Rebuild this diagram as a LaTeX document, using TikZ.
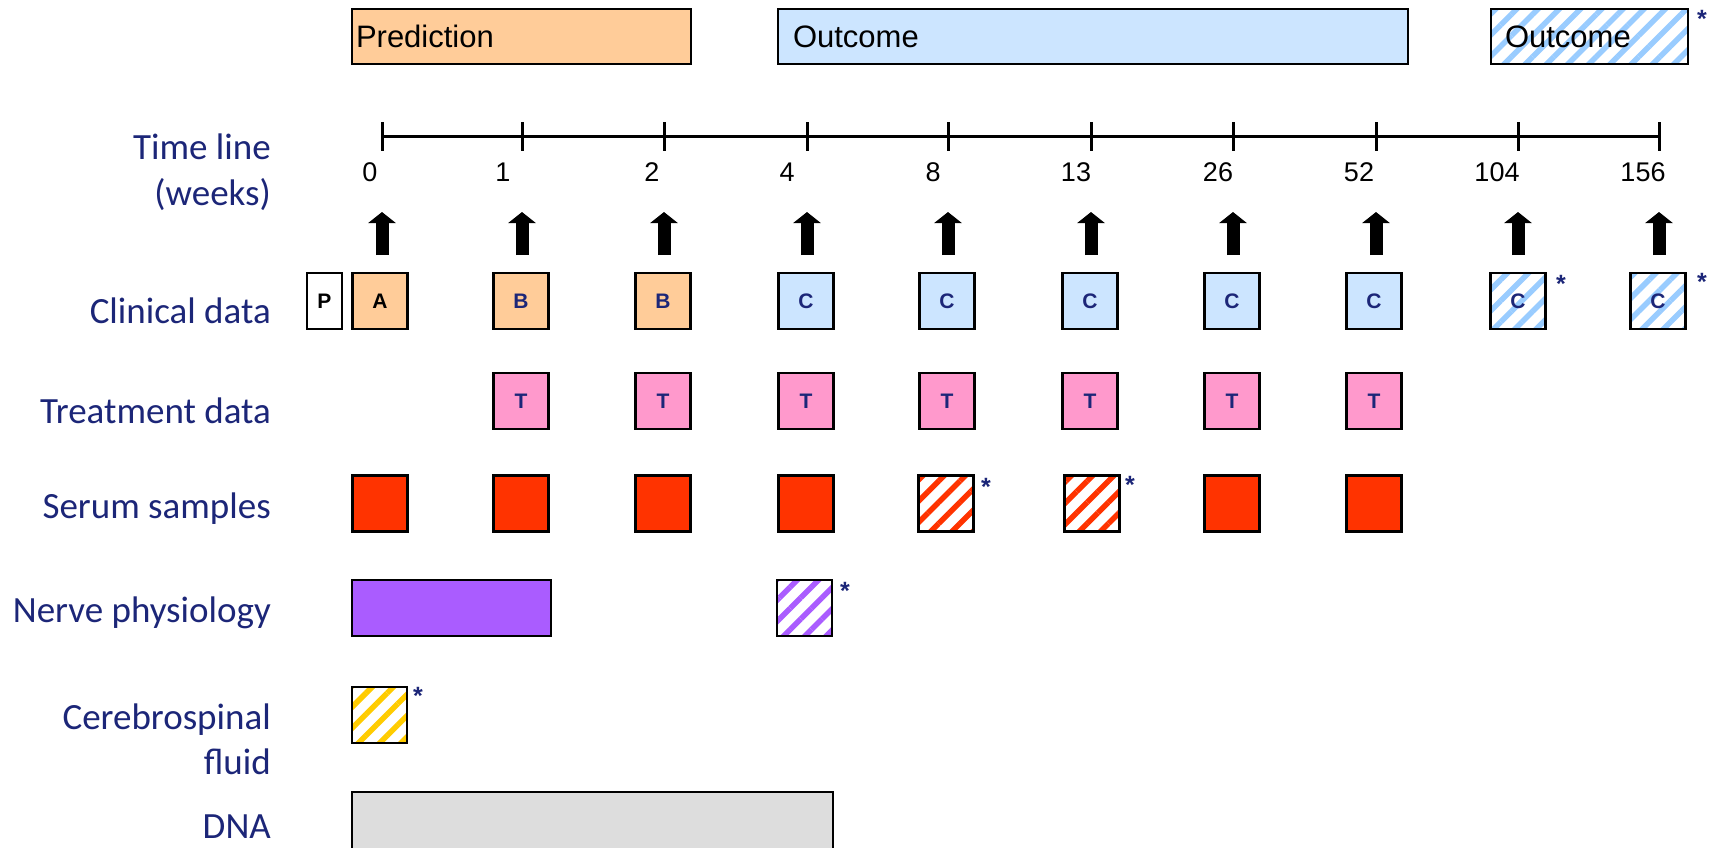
\documentclass[tikz,border=0pt]{standalone}
\usepackage{fontspec}
\setmainfont{Liberation Sans}
\newfontfamily\carlito{Carlito}
\usetikzlibrary{patterns.meta,arrows.meta}
\definecolor{navy}{RGB}{28,38,120}
\definecolor{peach}{HTML}{FFCC99}
\definecolor{lblue}{HTML}{CCE5FF}
\definecolor{sblue}{HTML}{99CCFF}
\definecolor{pinkT}{HTML}{FF99CC}
\definecolor{serum}{HTML}{FF3300}
\definecolor{purp}{HTML}{AA5CFF}
\definecolor{yel}{HTML}{FFCC00}
\definecolor{dnagray}{HTML}{DDDDDD}
\tikzset{
  bar/.style={draw=black, line width=2pt, inner ysep=0pt, minimum height=55pt,
    font=\fontsize{31}{31}\selectfont, align=left},
  sq/.style={draw=black, line width=2.2pt, minimum width=55pt, minimum height=56pt,
    inner sep=0pt, text=navy, font=\bfseries\fontsize{21}{21}\selectfont},
  hatch/.style={preaction={fill=white}, pattern={Lines[angle=45,distance=15pt,line width=5.5pt]}, pattern color=#1},
  ast/.style={text=navy, font=\bfseries\fontsize{25}{25}\selectfont, inner sep=0pt, anchor=north},
  rowlab/.style={text=navy, font=\carlito\fontsize{37}{46}\selectfont, inner sep=0pt, anchor=base east, align=right},
  ticklab/.style={font=\fontsize{27}{27}\selectfont, inner sep=0pt},
  axis/.style={line width=3pt},
  tickmark/.style={line width=3pt},
  bigarrow/.style={line width=13pt, -{Triangle[width=27pt,length=11pt]}}
}
\begin{document}
\begin{tikzpicture}[x=1pt,y=-1pt]
\useasboundingbox (0,0) rectangle (1719,847);
\fill[white] (0,0) rectangle (1719,847);

% top bars
\node[bar, fill=peach, text width=331pt, inner xsep=4pt] (pred) at (521.5,36.5) {Prediction};
\node[bar, fill=lblue, text width=600pt, inner xsep=15pt] (outc) at (1093,36.5) {Outcome};
\node[bar, hatch=sblue, text width=169pt, inner xsep=14pt] (outc2) at (1589.5,36.5) {Outcome};
\node[ast] (ast0) at (1702,10) {*};

% row labels
\node[rowlab, anchor=east] (tl) at (271,172) {Time line\\(weeks)};
\node[rowlab] (lclin) at (271,323) {Clinical data};
\node[rowlab] (ltreat) at (271,423) {Treatment data};
\node[rowlab] (lserum) at (271,518) {Serum samples};
\node[rowlab] (lnerve) at (271,622) {Nerve physiology};
\node[rowlab] (lcsf1) at (271,729) {Cerebrospinal};
\node[rowlab] (lcsf2) at (271,774) {fluid};
\node[rowlab] (ldna) at (271,838) {DNA};

% time line
\foreach \x/\lab/\off [count=\i from 0] in {382/0/-12, 522/1/-19, 664/2/-12, 807/4/-20, 948/8/-15, 1091/13/-15, 1233/26/-15, 1376/52/-17, 1518/104/-21, 1659/156/-16} {
  \coordinate (k\i) at (\x,136);
  \coordinate (kt\i) at (\x,122);
  \coordinate (kb\i) at (\x,151);
  \draw[tickmark] (kt\i) -- (kb\i);
  \node[ticklab] (lab\i) at (\x+\off,172) {\lab};
  \coordinate (ab\i) at (\x,255);
  \coordinate (at\i) at (\x,212);
  \draw[bigarrow] (ab\i) -- (at\i);
}
\draw[axis] (k0) -- (k9);

% clinical data
\node[sq, minimum width=35pt, fill=white, text=black] (P) at (324.5,301) {P};
\node[sq, fill=peach, text=black] (cA) at (380,301) {A};
\node[sq, fill=peach] (cB1) at (521,301) {B};
\node[sq, fill=peach] (cB2) at (663,301) {B};
\node[sq, fill=lblue] (cC1) at (806,301) {C};
\node[sq, fill=lblue] (cC2) at (947,301) {C};
\node[sq, fill=lblue] (cC3) at (1090,301) {C};
\node[sq, fill=lblue] (cC4) at (1232,301) {C};
\node[sq, fill=lblue] (cC5) at (1374,301) {C};
\node[sq, hatch=sblue] (cC6) at (1518,301) {C};
\node[sq, hatch=sblue] (cC7) at (1658,301) {C};
\node[ast] (ast1) at (1561,275) {*};
\node[ast] (ast2) at (1702,273) {*};

% treatment data
\foreach \x [count=\i] in {521,663,806,947,1090,1232,1374} {
  \node[sq, fill=pinkT] (t\i) at (\x,401) {T};
}

% serum samples
\node[sq, fill=serum] (s0) at (380,503.5) {};
\node[sq, fill=serum] (s1) at (521,503.5) {};
\node[sq, fill=serum] (s2) at (663,503.5) {};
\node[sq, fill=serum] (s3) at (806,503.5) {};
\node[sq, hatch=serum] (s4) at (946,503.5) {};
\node[sq, hatch=serum] (s5) at (1092,503.5) {};
\node[sq, fill=serum] (s6) at (1232,503.5) {};
\node[sq, fill=serum] (s7) at (1374,503.5) {};
\node[ast] (ast3) at (986,478) {*};
\node[ast] (ast4) at (1130,476) {*};

% nerve physiology
\node[sq, fill=purp, minimum width=199pt] (n0) at (451.5,608) {};
\node[sq, hatch=purp] (n1) at (804.5,608) {};
\node[ast] (ast5) at (845,582) {*};

% cerebrospinal fluid
\node[sq, hatch=yel] (csf) at (379.5,715) {};
\node[ast] (ast6) at (418,687) {*};

% DNA
\node[sq, fill=dnagray, minimum width=481pt, minimum height=70pt] (dna) at (592.5,827) {};
\end{tikzpicture}
\end{document}
